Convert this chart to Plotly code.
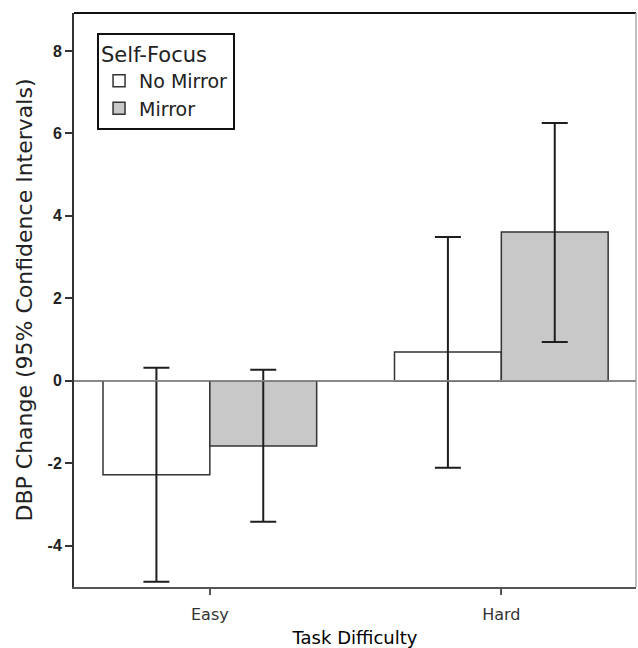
import plotly.graph_objects as go

categories = ["Easy", "Hard"]
no_mirror_mean = [-2.28, 0.70]
no_mirror_upper = [0.32, 3.49]
no_mirror_lower = [-4.87, -2.11]
mirror_mean = [-1.58, 3.61]
mirror_upper = [0.27, 6.25]
mirror_lower = [-3.42, 0.94]
y_ticks = [-4, -2, 0, 2, 4, 6, 8]
y_tick_labels = ["-4", "-2", "0", "2", "4", "6", "8"]

def err(mean, up, lo):
    return dict(type="data", symmetric=False,
                array=[u - m for u, m in zip(up, mean)],
                arrayminus=[m - l for m, l in zip(mean, lo)],
                color="#1e1e1e", thickness=2, width=13)

fig = go.Figure()
fig.add_trace(go.Bar(x=categories, y=no_mirror_mean, name="No Mirror",
                     marker=dict(color="white", line=dict(color="#333333", width=1.5)),
                     error_y=err(no_mirror_mean, no_mirror_upper, no_mirror_lower)))
fig.add_trace(go.Bar(x=categories, y=mirror_mean, name="Mirror",
                     marker=dict(color="#c8c8c8", line=dict(color="#333333", width=1.5)),
                     error_y=err(mirror_mean, mirror_upper, mirror_lower)))

fig.update_layout(
    width=638, height=648,
    margin=dict(l=74, r=2, t=13, b=61),
    paper_bgcolor="white", plot_bgcolor="white",
    barmode="group", bargap=0.267, bargroupgap=0,
    showlegend=True,
    legend=dict(x=0.041, y=0.966, xanchor="left", yanchor="top",
                bordercolor="#111111", borderwidth=2, bgcolor="white",
                title=dict(text="Self-Focus", font=dict(family="DejaVu Sans", size=21, color="#222")),
                font=dict(family="DejaVu Sans", size=19, color="#222"),
                tracegroupgap=0, itemwidth=30),
    font=dict(family="DejaVu Sans", color="#222"),
)
fig.update_xaxes(range=[-0.466, 1.462], showline=True, linecolor="#555555", linewidth=2,
                 ticks="outside", ticklen=6, tickcolor="#555555", tickwidth=2,
                 ticklabelstandoff=6,
                 tickfont=dict(family="DejaVu Sans", size=16, color="#333"),
                 title=dict(text="Task Difficulty", standoff=8,
                            font=dict(family="DejaVu Sans", size=18, color="#000")),
                 showgrid=False, zeroline=False)
fig.update_yaxes(range=[-5, 8.92], tickvals=y_ticks, ticktext=y_tick_labels,
                 showline=True, linecolor="#333333", linewidth=2,
                 ticks="outside", ticklen=7, tickcolor="#333333", tickwidth=2,
                 tickfont=dict(family="Liberation Sans", size=16, color="#222", weight="bold"),
                 title=dict(text="DBP Change (95% Confidence Intervals)", standoff=9,
                            font=dict(family="DejaVu Sans", size=22, color="#222")),
                 showgrid=False, zeroline=True, zerolinecolor="#888888", zerolinewidth=1.5)
fig.add_shape(type="line", xref="paper", yref="paper", x0=0, x1=1, y0=1, y1=1,
              line=dict(color="#111111", width=2))
fig.add_shape(type="line", xref="paper", yref="paper", x0=1, x1=1, y0=0, y1=1,
              line=dict(color="#aaaaaa", width=1.5))
fig.add_shape(type="line", xref="paper", yref="y", x0=0, x1=1, y0=0, y1=0,
              line=dict(color="#888888", width=1.5), layer="above")

fig.write_html("out.html", config={"displayModeBar": False},
               post_script="document.body.style.margin='0';")
